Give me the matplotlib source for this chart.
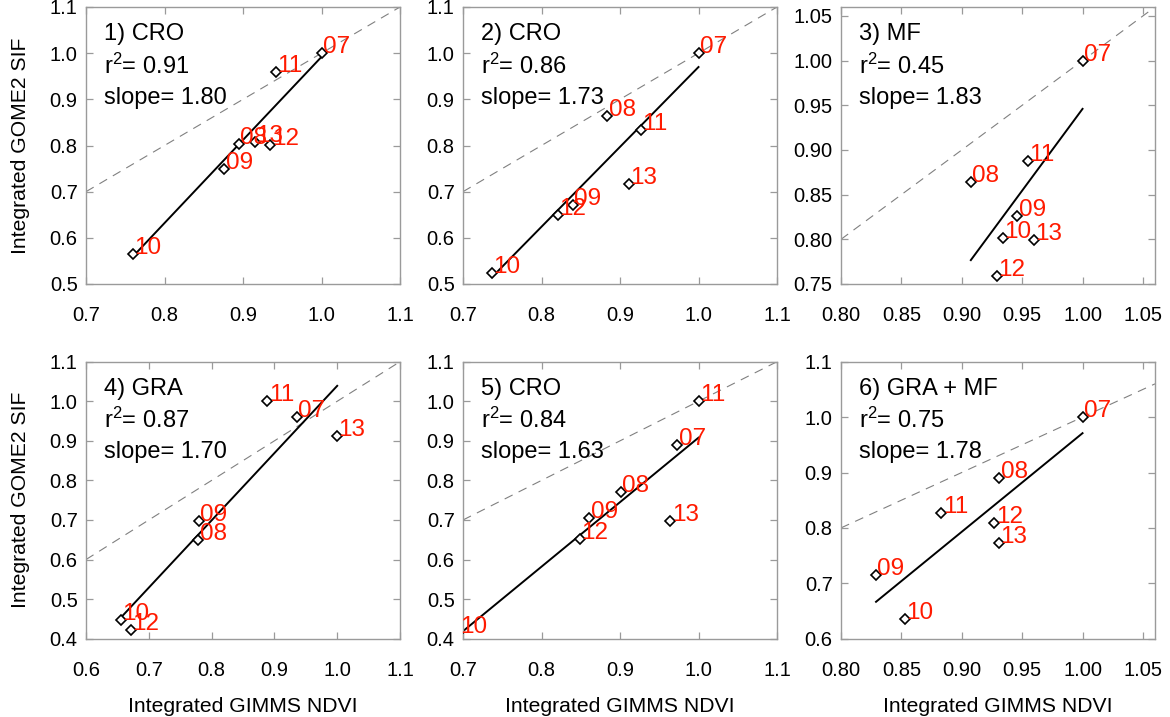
import numpy as np
import matplotlib
matplotlib.use("Agg")
import matplotlib.pyplot as plt

plt.rcParams["font.family"] = ["Liberation Sans", "DejaVu Sans"]
plt.rcParams["mathtext.fontset"] = "custom"
plt.rcParams["mathtext.rm"] = "Liberation Sans"
plt.rcParams["mathtext.it"] = "Liberation Sans:italic"

years = ["07", "08", "09", "10", "11", "12", "13"]

# Integrated GIMMS NDVI (x) and integrated GOME2 SIF (y), one pair per panel
ndvi_1 = [1.000, 0.895, 0.876, 0.760, 0.942, 0.935, 0.915]
sif_1 = [1.000, 0.803, 0.750, 0.566, 0.960, 0.801, 0.808]
ndvi_2 = [1.000, 0.884, 0.840, 0.737, 0.927, 0.821, 0.911]
sif_2 = [1.000, 0.864, 0.672, 0.523, 0.833, 0.649, 0.716]
ndvi_3 = [1.000, 0.9075, 0.946, 0.934, 0.955, 0.929, 0.960]
sif_3 = [1.000, 0.864, 0.826, 0.801, 0.888, 0.759, 0.799]
ndvi_4 = [0.9355, 0.779, 0.780, 0.655, 0.889, 0.671, 1.000]
sif_4 = [0.961, 0.649, 0.697, 0.447, 1.000, 0.423, 0.911]
ndvi_5 = [0.973, 0.901, 0.861, 0.694, 1.000, 0.849, 0.964]
sif_5 = [0.890, 0.771, 0.706, 0.415, 1.000, 0.651, 0.697]
ndvi_6 = [1.000, 0.931, 0.829, 0.853, 0.883, 0.927, 0.931]
sif_6 = [1.000, 0.890, 0.715, 0.635, 0.827, 0.809, 0.773]

titles = ["1) CRO", "2) CRO", "3) MF", "4) GRA", "5) CRO", "6) GRA + MF"]
r2_values = [0.91, 0.86, 0.45, 0.87, 0.84, 0.75]
slopes = [1.80, 1.73, 1.83, 1.70, 1.63, 1.78]
intercepts = [-0.808, -0.760, -0.884, -0.661, -0.722, -0.809]

x_limits = [(0.7, 1.1), (0.7, 1.1), (0.80, 1.06), (0.6, 1.1), (0.7, 1.1), (0.80, 1.06)]
y_limits = [(0.5, 1.1), (0.5, 1.1), (0.75, 1.06), (0.4, 1.1), (0.4, 1.1), (0.6, 1.1)]
x_ticks = [
    [0.7, 0.8, 0.9, 1.0, 1.1],
    [0.7, 0.8, 0.9, 1.0, 1.1],
    [0.80, 0.85, 0.90, 0.95, 1.00, 1.05],
    [0.6, 0.7, 0.8, 0.9, 1.0, 1.1],
    [0.7, 0.8, 0.9, 1.0, 1.1],
    [0.80, 0.85, 0.90, 0.95, 1.00, 1.05],
]
y_ticks = [
    [0.5, 0.6, 0.7, 0.8, 0.9, 1.0, 1.1],
    [0.5, 0.6, 0.7, 0.8, 0.9, 1.0, 1.1],
    [0.75, 0.80, 0.85, 0.90, 0.95, 1.00, 1.05],
    [0.4, 0.5, 0.6, 0.7, 0.8, 0.9, 1.0, 1.1],
    [0.4, 0.5, 0.6, 0.7, 0.8, 0.9, 1.0, 1.1],
    [0.6, 0.7, 0.8, 0.9, 1.0, 1.1],
]
x_formats = ["%.1f", "%.1f", "%.2f", "%.1f", "%.1f", "%.2f"]
y_formats = ["%.1f", "%.1f", "%.2f", "%.1f", "%.1f", "%.1f"]

ndvi = [ndvi_1, ndvi_2, ndvi_3, ndvi_4, ndvi_5, ndvi_6]
sif = [sif_1, sif_2, sif_3, sif_4, sif_5, sif_6]

W, H = 1170, 717
fig = plt.figure(figsize=(W / 100, H / 100), dpi=100)

col_left = [86, 463, 841]
row_top = [7, 361.7]
ax_w, ax_h = 314, 277

frame_grey = "#9a9a9a"
fs_tick = 14.5
fs_text = 17
fs_year = 17.5
fs_label = 15.2

for i in range(6):
    r, c = divmod(i, 3)
    left = col_left[c] / W
    bottom = 1 - (row_top[r] + ax_h) / H
    ax = fig.add_axes([left, bottom, ax_w / W, ax_h / H])

    x = np.array(ndvi[i])
    y = np.array(sif[i])
    x0, x1 = x_limits[i]
    y0, y1 = y_limits[i]

    # 1:1 reference line
    ax.axline((0, 0), slope=1, color="#808080", lw=0.8, dashes=(8, 6), zorder=1)

    # fitted regression line over the data range
    xs = np.array([x.min(), x.max()])
    ax.plot(xs, intercepts[i] + slopes[i] * xs, color="black", lw=1.4, zorder=2)

    ax.plot(x, y, linestyle="none", marker="D", markersize=5.2,
            markerfacecolor="white", markeredgecolor="black",
            markeredgewidth=1.2, zorder=3)

    for xi, yi, lab in zip(x, y, years):
        ax.annotate(lab, (xi, yi), xytext=(1.0, 0), textcoords="offset points",
                    ha="left", va="baseline", color="#ff1a00",
                    fontsize=fs_year, annotation_clip=False, zorder=4)

    tx = 18 / ax_w
    ax.text(tx, 0.880, titles[i], transform=ax.transAxes, fontsize=fs_text,
            ha="left", va="baseline")
    ax.text(tx, 0.760, "r$^{\\mathrm{2}}$= %.2f" % r2_values[i],
            transform=ax.transAxes, fontsize=fs_text, ha="left", va="baseline")
    ax.text(tx, 0.651, "slope= %.2f" % slopes[i], transform=ax.transAxes,
            fontsize=fs_text, ha="left", va="baseline")

    ax.set_xlim(x0, x1)
    ax.set_ylim(y0, y1)
    ax.set_xticks(x_ticks[i])
    ax.set_yticks(y_ticks[i])
    ax.set_xticklabels([x_formats[i] % v for v in x_ticks[i]])
    ax.set_yticklabels([y_formats[i] % v for v in y_ticks[i]])
    ax.tick_params(axis="both", which="major", direction="in", length=5,
                   width=0.9, color=frame_grey, top=True, right=True,
                   labelsize=fs_tick)
    ax.tick_params(axis="x", pad=16)
    ax.tick_params(axis="y", pad=6)
    for sp in ax.spines.values():
        sp.set_color(frame_grey)
        sp.set_linewidth(1.0)

    if c == 0:
        ax.set_ylabel("Integrated GOME2 SIF", fontsize=fs_label, labelpad=14)
    if r == 1:
        ax.set_xlabel("Integrated GIMMS NDVI", fontsize=fs_label, labelpad=12)

fig.savefig("out.png", dpi=100)
